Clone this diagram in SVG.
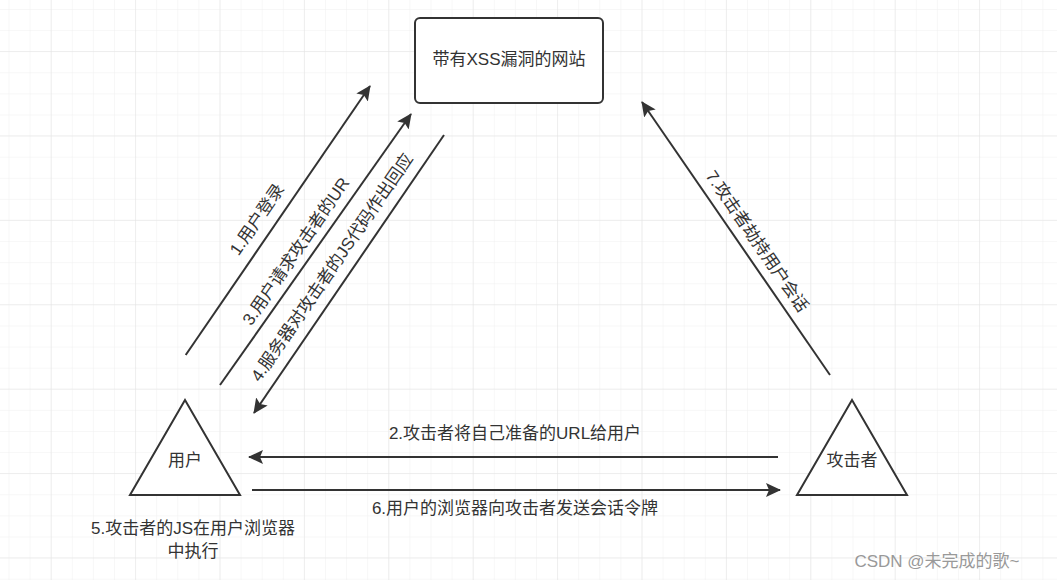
<svg xmlns="http://www.w3.org/2000/svg" width="1057" height="580" viewBox="0 0 1057 580">
<defs>
<pattern id="minor" x="8.5" y="9" width="21.1" height="21.1" patternUnits="userSpaceOnUse"><path d="M0 0H21.1M0 0V21.1" fill="none" stroke="#f0f0f0" stroke-width="1"/></pattern>
<pattern id="major" x="50.7" y="51" width="84.4" height="84.4" patternUnits="userSpaceOnUse"><path d="M0 0H84.4M0 0V84.4" fill="none" stroke="#e4e4e4" stroke-width="1"/></pattern>
<marker id="ah" markerWidth="16" markerHeight="14" refX="14" refY="7" orient="auto" markerUnits="userSpaceOnUse"><path d="M0 0L15 7L0 14L3 7Z" fill="#333"/></marker>
</defs>
<style>
text{font-family:"Liberation Sans","Noto Sans CJK SC",sans-serif;font-size:17px;fill:#333;text-anchor:middle;dominant-baseline:middle}
.ln{stroke:#333;stroke-width:2;fill:none}
.nd{stroke:#333;stroke-width:2;fill:#fff}
</style>
<rect width="1057" height="580" fill="#fff"/>
<rect width="1057" height="580" fill="url(#minor)"/>
<rect width="1057" height="580" fill="url(#major)"/>
<g id="site"><rect class="nd" x="415" y="18" width="188" height="85" rx="5"/><text x="509" y="61">带有XSS漏洞的网站</text></g>
<g id="user"><path class="nd" d="M185 400L240 495H130Z"/><text x="185" y="462">用户</text></g>
<g id="attacker"><path class="nd" d="M852 400L907 495H797Z"/><text x="852" y="462">攻击者</text></g>
<g id="connectors">
<path class="ln" d="M185.7 355L370 86" marker-end="url(#ah)"/>
<path class="ln" d="M220 385L411 114" marker-end="url(#ah)"/>
<path class="ln" d="M444 135L254 413" marker-end="url(#ah)"/>
<path class="ln" d="M830 375L642 102" marker-end="url(#ah)"/>
<path class="ln" d="M778 457H249" marker-end="url(#ah)"/>
<path class="ln" d="M252 490H780" marker-end="url(#ah)"/>
<text transform="translate(258,220) rotate(-55.5)">1.用户登录</text>
<text transform="translate(297,252) rotate(-55.5)">3.用户请求攻击者的UR</text>
<text transform="translate(333,268) rotate(-55.5)">4.服务器对攻击者的JS代码作出回应</text>
<text transform="translate(756,242) rotate(55.5)">7.攻击者劫持用户会话</text>
<text x="515" y="435">2.攻击者将自己准备的URL给用户</text>
<text x="515" y="510">6.用户的浏览器向攻击者发送会话令牌</text>
</g>
<text x="193" y="530">5.攻击者的JS在用户浏览器</text>
<text x="193" y="553">中执行</text>
<text x="937" y="563" style="fill:#999">CSDN @未完成的歌~</text>
</svg>
